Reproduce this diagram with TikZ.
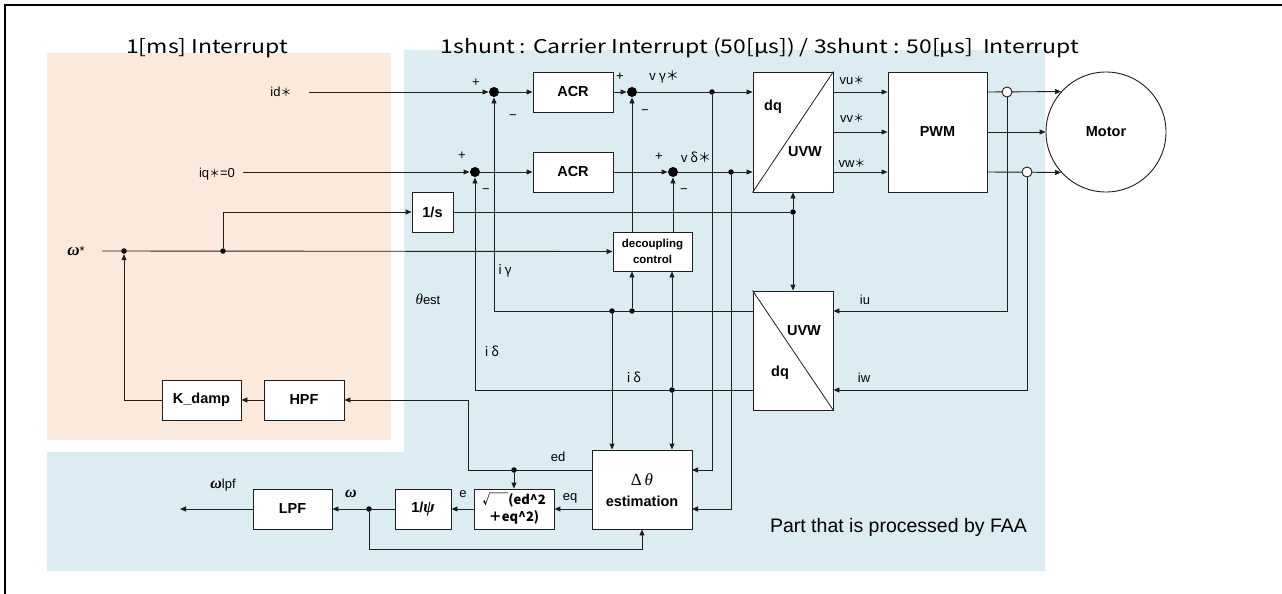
\documentclass[tikz,border=0pt]{standalone}
\usepackage{fontspec}
\setmainfont{Liberation Sans}
\newfontfamily\jp{Noto Sans CJK JP}
\newfontfamily\jpw{Noto Sans CJK JP}[FakeStretch=1.21]
\newfontfamily\grk{Liberation Serif}
\usetikzlibrary{arrows.meta,calc}
\definecolor{peach}{RGB}{251,233,219}
\definecolor{paleblue}{RGB}{219,236,242}
\definecolor{ln}{RGB}{30,30,30}
\begin{document}
\begin{tikzpicture}[x=1pt,y=-1pt,line width=0.9pt,draw=ln,
  arr/.style={-{Triangle[length=6pt,width=5pt]}},
  blk/.style={draw=ln,fill=white,inner sep=0pt,align=center,font=\bfseries\fontsize{14.5}{16}\selectfont},
  sumdot/.style={circle,fill=black,inner sep=0pt,minimum size=10pt},
  dot/.style={circle,fill=black,inner sep=0pt,minimum size=5.5pt},
  odot/.style={circle,draw=ln,fill=white,inner sep=0pt,minimum size=10pt},
  lbl/.style={inner sep=0pt,font=\fontsize{13}{15}\selectfont},
  jlbl/.style={inner sep=0pt,font=\jp\fontsize{13}{15}\selectfont},
  ttl/.style={inner sep=0pt,font=\jpw\fontsize{19}{22}\selectfont}]
\useasboundingbox (0,0) rectangle (1282,594);
% backgrounds
\fill[peach] (47,53) rectangle (391,440);
\fill[paleblue] (404,50) -- (1045,50) -- (1045,571) -- (47,571) -- (47,452) -- (404,452) -- cycle;
% frame
\draw[line width=2pt,black] (5,594) -- (5,5) -- (1282,5);
% titles
\node[ttl] (t1) at (207,48) {1[ms] Interrupt};
\node[ttl] (t2) at (760,48) {1shunt : Carrier Interrupt (50[μs]) / 3shunt : 50[μs]\ \ Interrupt};
\node[inner sep=0pt,font=\fontsize{19.5}{22}\selectfont] (faa) at (898.5,527) {Part that is processed by FAA};
% blocks
\node[blk,minimum width=80pt,minimum height=40pt] (acr1) at (573,92) {ACR};
\node[blk,minimum width=80pt,minimum height=40pt] (acr2) at (573,172) {ACR};
\node[blk,minimum width=80pt,minimum height=120pt] (dq1) at (793,132) {};
\node[blk,minimum width=99pt,minimum height=120pt] (pwm) at (937.5,132) {PWM};
\node[blk,circle,minimum size=120pt] (motor) at (1106,132) {Motor};
\node[blk,minimum width=41pt,minimum height=40pt] (inv) at (432.5,212) {1/s};
\node[blk,minimum width=79pt,minimum height=39pt,font=\bfseries\fontsize{11.5}{16.5}\selectfont] (dec) at (652.5,251.5) {decoupling\\control};
\node[blk,minimum width=80pt,minimum height=119pt] (dq2) at (793,350.5) {};
\node[blk,minimum width=100pt,minimum height=79pt] (est) at (642,489.5) {};
\node[blk,minimum width=80pt,minimum height=40pt,font=\jp\bfseries\fontsize{13}{17}\selectfont] (sq) at (514,509) {√￣(ed\textasciicircum 2\\＋eq\textasciicircum 2)};
\node[blk,minimum width=56pt,minimum height=40pt] (psi) at (423,509) {1/{\grk\bfseries\itshape\fontsize{17}{17}\selectfont ψ}};
\node[blk,minimum width=79pt,minimum height=40pt] (lpf) at (292.5,509) {LPF};
\node[blk,minimum width=79pt,minimum height=40pt] (kd) at (201.5,400) {K\_damp};
\node[blk,minimum width=80pt,minimum height=40pt] (hpf) at (304,400) {HPF};
% block inner texts
\draw[line width=0.8pt] (dq1.south west) -- (dq1.north east);
\draw[line width=0.8pt] (dq2.north west) -- (dq2.south east);
\node[inner sep=0pt,font=\bfseries\fontsize{14.5}{16}\selectfont] (dq1a) at (773,107) {dq};
\node[inner sep=0pt,font=\bfseries\fontsize{14.5}{16}\selectfont] (dq1b) at (805,152) {UVW};
\node[inner sep=0pt,font=\bfseries\fontsize{14.5}{16}\selectfont] (dq2a) at (804,331) {UVW};
\node[inner sep=0pt,font=\bfseries\fontsize{14.5}{16}\selectfont] (dq2b) at (780,373) {dq};
\node[inner sep=0pt,font=\grk\fontsize{17}{18}\selectfont] (esta) at (642,480) {Δ\,{\itshape θ}};
\node[inner sep=0pt,font=\bfseries\fontsize{14.5}{16}\selectfont] (estb) at (642,501) {estimation};
% summing points and dots
\node[sumdot] (s1) at (494,92) {};
\node[sumdot] (s2) at (632,92) {};
\node[sumdot] (s3) at (475,172) {};
\node[sumdot] (s4) at (673,172) {};
\node[dot] (vgd) at (712,92) {};
\node[dot] (vdd) at (731,172) {};
\node[dot] (thd) at (793,212) {};
\node[dot] (igd1) at (612,311) {};
\node[dot] (igd2) at (632,311) {};
\node[dot] (idd) at (672,390) {};
\node[dot] (edd) at (514,470) {};
\node[dot] (omd) at (369,509) {};
\node[dot] (wd2) at (223,251) {};
\node[dot] (wj) at (124,251) {};
% coordinates
\coordinate (idin) at (309,92);
\coordinate (iqin) at (243,172);
\coordinate (wsin) at (102,251);
\coordinate (igL) at (494,311);
\coordinate (idL) at (475,390);
\coordinate (edL) at (468,470);
\coordinate (estR1) at (692,470);
\coordinate (estR2) at (692,509);
\coordinate (omB) at (369,549);
\coordinate (kdL) at (124,400);
\coordinate (lpfout) at (180,509);
\coordinate (iuR) at (1007,311);
\coordinate (iwR) at (1027,390);
\coordinate (vuL) at (833,92);
\coordinate (vwL) at (833,172);
% connectors: current loops
\draw[arr] (idin) -- (s1.west);
\draw[arr] (iqin) -- (s3.west);
\draw[arr] (s1.east) -- (acr1.west);
\draw[arr] (s3.east) -- (acr2.west);
\draw[arr] (acr1.east) -- (s2.west);
\draw[arr] (acr2.east) -- (s4.west);
\draw[arr] (s2.east) -- (dq1.west |- s2);
\draw[arr] (s4.east) -- (dq1.west |- s4);
\draw[arr] (vuL) -- (pwm.west |- vuL);
\draw[arr] (dq1.east) -- (pwm.west);
\draw[arr] (vwL) -- (pwm.west |- vwL);
\draw[arr] (pwm.east |- vuL) -- (motor.138);
\draw[arr] (pwm.east) -- (motor.west);
\draw[arr] (pwm.east |- vwL) -- (motor.222);
\node[odot] (oc1) at (1007,92) {};
\node[odot] (oc2) at (1027,172) {};
\draw[arr] (oc1.south) -- (iuR) -- (dq2.east |- iuR);
\draw[arr] (oc2.south) -- (iwR) -- (dq2.east |- iwR);
% feedback currents
\draw (dq2.west |- igL) -- (igL);
\draw[arr] (igL) -- (s1.south);
\draw (dq2.west |- idL) -- (idL);
\draw[arr] (idL) -- (s3.south);
\draw[arr] (igd2) -- (igd2 |- dec.south);
\draw[arr] (idd) -- (idd |- dec.south);
\draw[arr] (igd1) -- (igd1 |- est.north);
\draw[arr] (idd) -- (idd |- est.north);
\draw[arr] (s2 |- dec.north) -- (s2.south);
\draw[arr] (s4 |- dec.north) -- (s4.south);
\draw[arr] (vgd) |- (estR1);
\draw[arr] (vdd) |- (estR2);
% speed / angle
\draw[arr] (wsin) -- (dec.west);
\draw[arr] (wd2) |- (inv.west);
\draw (inv.east) -- (thd);
\draw[arr] (thd) -- (dq1.south);
\draw[arr] (thd) -- (dq2.north);
% estimation
\draw (est.west |- edd) -- (edL);
\draw[arr] (edL) |- (hpf.east);
\draw[arr] (edd) -- (sq.north);
\draw[arr] (est.west |- sq) -- (sq.east);
\draw[arr] (sq.west) -- (psi.east);
\draw[arr] (psi.west) -- (lpf.east);
\draw[arr] (lpf.west) -- (lpfout);
\draw[arr] (omd) -- (omB) -| (est.south);
\draw[arr] (hpf.west) -- (kd.east);
\draw (kd.west) -- (kdL);
\draw[arr] (kdL) -- (wj.south);
% labels
\node[lbl] (lid) at (281,92) {id{\jp\fontsize{11}{13}\selectfont ＊}};
\node[lbl] (liq) at (217,174) {iq{\jp\fontsize{11}{13}\selectfont ＊}=0};
\node[lbl] (lw) at (76,251) {{\grk\bfseries\itshape\fontsize{17}{17}\selectfont ω}*};
\node[lbl] (p1) at (476,83) {+};
\node[lbl] (m1) at (513,117) {\textminus};
\node[lbl] (p2) at (620,77) {+};
\node[lbl] (m2) at (645,112) {\textminus};
\node[lbl] (p3) at (462,156) {+};
\node[lbl] (m3) at (486,191) {\textminus};
\node[lbl] (p4) at (659,157) {+};
\node[lbl] (m4) at (684,191) {\textminus};
\node[jlbl] (lvg) at (664,77) {v γ＊};
\node[jlbl] (lvd) at (696,157) {v δ＊};
\node[lbl] (lvu) at (852,80) {vu{\jp\fontsize{11}{13}\selectfont ＊}};
\node[lbl] (lvv) at (852,118) {vv{\jp\fontsize{11}{13}\selectfont ＊}};
\node[lbl] (lvw) at (852,163) {vw{\jp\fontsize{11}{13}\selectfont ＊}};
\node[lbl] (liu) at (865,300) {iu};
\node[lbl] (liw) at (864,378) {iw};
\node[jlbl] (lig) at (505,271) {i γ};
\node[lbl] (lth) at (428,299) {{\grk\itshape\fontsize{15}{15}\selectfont θ}est};
\node[jlbl] (lid1) at (492,351) {i δ};
\node[jlbl] (lid2) at (634,377) {i δ};
\node[lbl] (led) at (558,457) {ed};
\node[lbl] (leq) at (570,498) {eq};
\node[lbl] (le) at (463,494) {e};
\node[lbl] (lom) at (351,494) {{\grk\bfseries\itshape\fontsize{16}{16}\selectfont ω}};
\node[lbl] (lomf) at (223,485) {{\grk\bfseries\itshape\fontsize{16}{16}\selectfont ω}lpf};
\end{tikzpicture}
\end{document}
